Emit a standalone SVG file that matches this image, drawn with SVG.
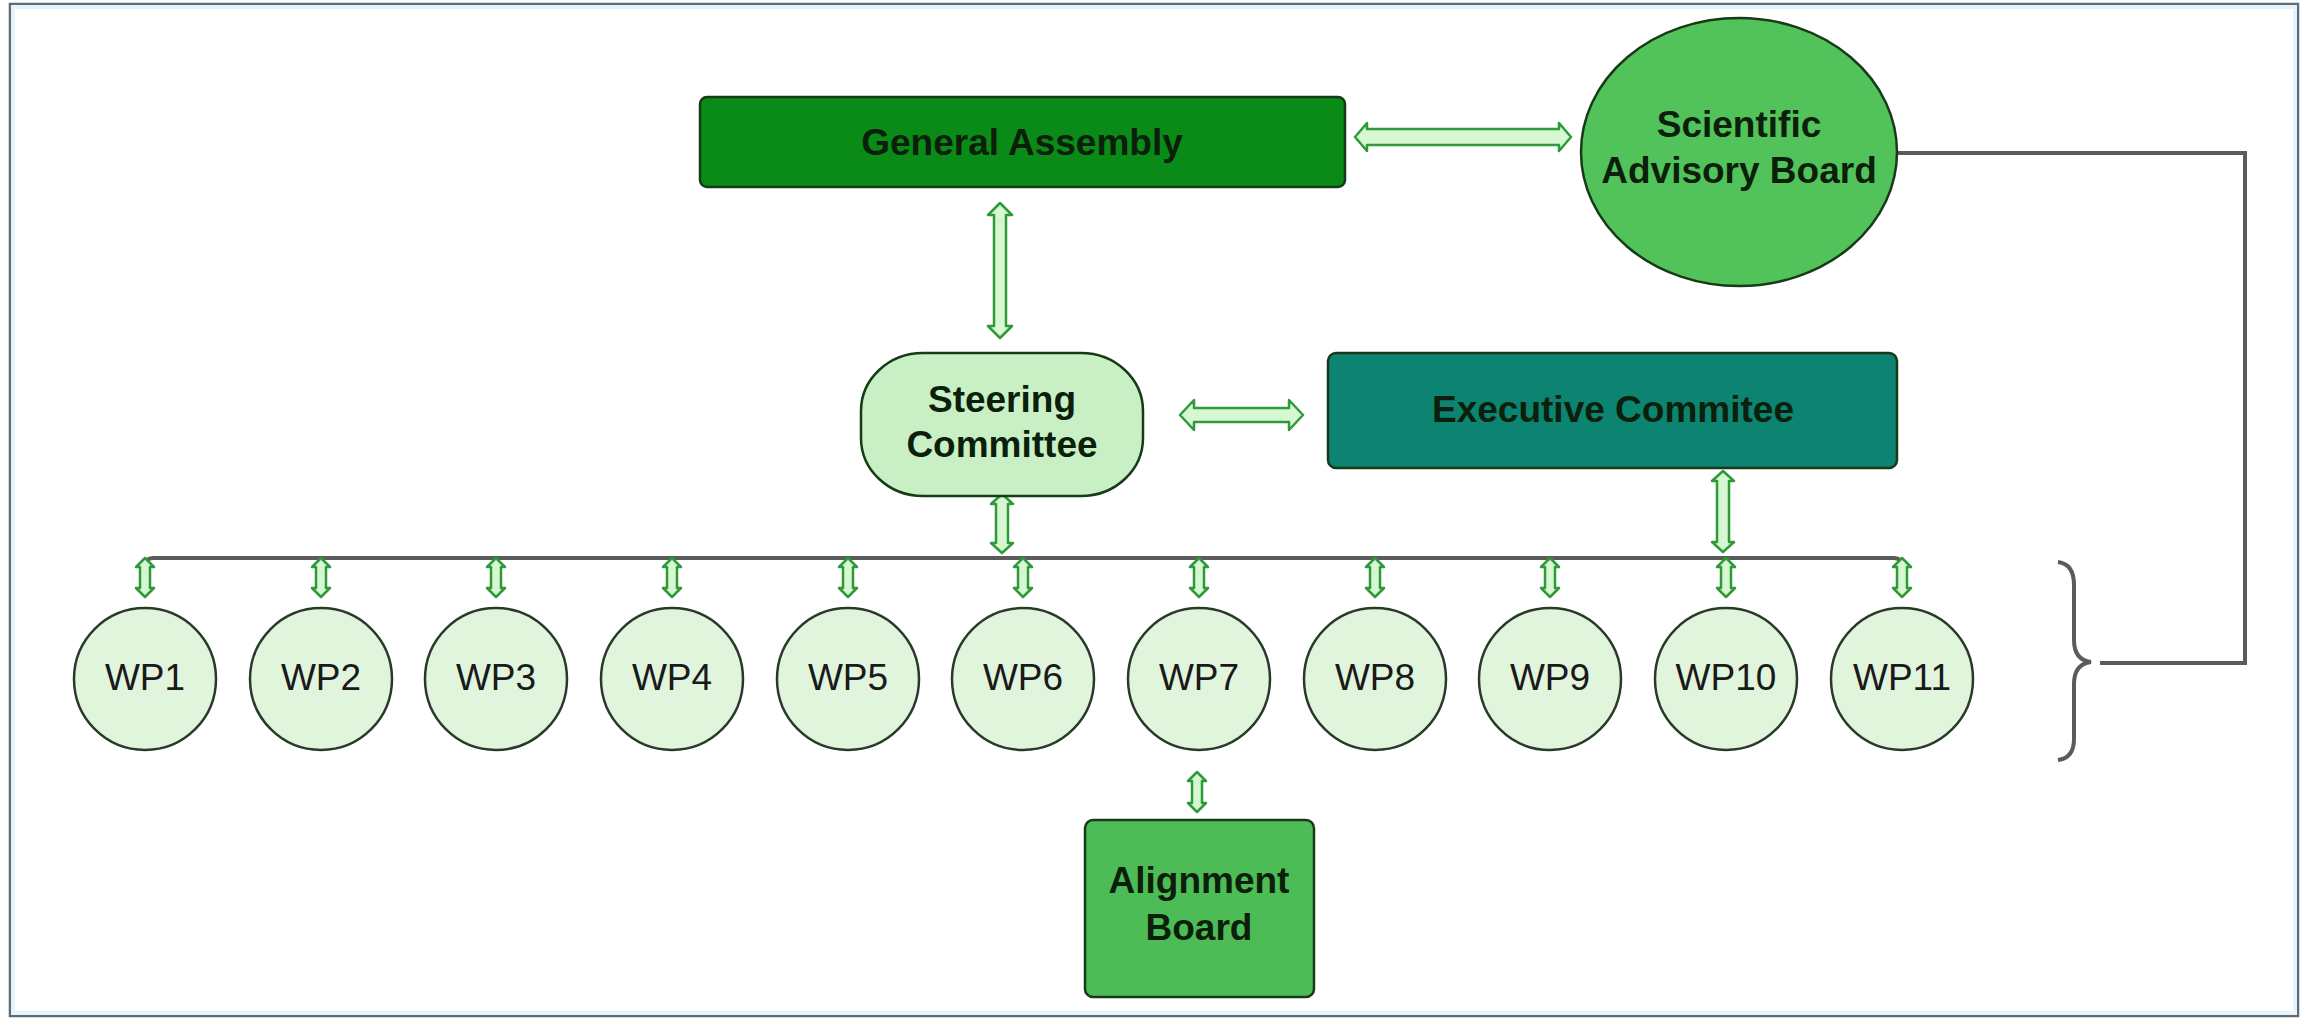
<svg xmlns="http://www.w3.org/2000/svg" width="2303" height="1019" viewBox="0 0 2303 1019">
<style>
.lbl{font-family:"Liberation Sans",Arial,sans-serif;font-weight:bold;font-size:37px;fill:#0b1f0b;text-anchor:middle}
.wp{font-family:"Liberation Sans",Arial,sans-serif;font-size:37px;fill:#1a1a1a;text-anchor:middle}
.node{stroke:#173a17;stroke-width:2.5}
.arr{fill:#d6f7d1;stroke:#2f9a3a;stroke-width:2.5;stroke-linejoin:round}
.line{fill:none;stroke:#5b5b5b;stroke-width:4}
.wpc{fill:#e1f5dd;stroke:#2a3a2a;stroke-width:2.5}
</style>
<rect x="0" y="0" width="2303" height="1019" fill="#ffffff"/>
<rect x="10" y="4" width="2288" height="1012" fill="none" stroke="#5d6c7b" stroke-width="2.5"/>
<rect x="13" y="7" width="2282" height="1006" fill="none" stroke="#e6f3fb" stroke-width="4"/>

<g id="connectors">
  <path class="line" d="M145,566 Q145,558 153,558 L1894,558 Q1902,558 1902,566"/>
  <path class="line" d="M1897,153 L2245,153 L2245,663 L2100,663"/>
  <path class="line" stroke-width="2.5" d="M2058,562 Q2074,564 2074,585 L2074,640 Q2074,660 2091,662 Q2074,664 2074,684 L2074,739 Q2074,758 2058,760"/>
  <!-- GA <-> SAB -->
  <path class="arr" d="M1355,137 L1367,123 L1367,129 L1559,129 L1559,123 L1571,137 L1559,151 L1559,145 L1367,145 L1367,151 Z"/>
  <!-- GA <-> SC -->
  <path class="arr" d="M1000,203 L1012,215 L1006,215 L1006,326 L1012,326 L1000,338 L988,326 L994,326 L994,215 L988,215 Z"/>
  <!-- SC <-> EC -->
  <path class="arr" d="M1180,415 L1194,400 L1194,408 L1289,408 L1289,400 L1303,415 L1289,430 L1289,422 L1194,422 L1194,430 Z"/>
  <!-- SC <-> bus -->
  <path class="arr" d="M1002,494 L1013,504 L1008,504 L1008,543 L1013,543 L1002,553 L991,543 L996,543 L996,504 L991,504 Z"/>
  <!-- EC <-> bus -->
  <path class="arr" d="M1723,471 L1734,481 L1729,481 L1729,542 L1734,542 L1723,552 L1712,542 L1717,542 L1717,481 L1712,481 Z"/>
  <!-- bus <-> WPs -->
  <g id="wp-arrows">
    <path class="arr" transform="translate(145,0)" d="M0,558 L9,567 L5,567 L5,588 L9,588 L0,597 L-9,588 L-5,588 L-5,567 L-9,567 Z"/>
    <path class="arr" transform="translate(321,0)" d="M0,558 L9,567 L5,567 L5,588 L9,588 L0,597 L-9,588 L-5,588 L-5,567 L-9,567 Z"/>
    <path class="arr" transform="translate(496,0)" d="M0,558 L9,567 L5,567 L5,588 L9,588 L0,597 L-9,588 L-5,588 L-5,567 L-9,567 Z"/>
    <path class="arr" transform="translate(672,0)" d="M0,558 L9,567 L5,567 L5,588 L9,588 L0,597 L-9,588 L-5,588 L-5,567 L-9,567 Z"/>
    <path class="arr" transform="translate(848,0)" d="M0,558 L9,567 L5,567 L5,588 L9,588 L0,597 L-9,588 L-5,588 L-5,567 L-9,567 Z"/>
    <path class="arr" transform="translate(1023,0)" d="M0,558 L9,567 L5,567 L5,588 L9,588 L0,597 L-9,588 L-5,588 L-5,567 L-9,567 Z"/>
    <path class="arr" transform="translate(1199,0)" d="M0,558 L9,567 L5,567 L5,588 L9,588 L0,597 L-9,588 L-5,588 L-5,567 L-9,567 Z"/>
    <path class="arr" transform="translate(1375,0)" d="M0,558 L9,567 L5,567 L5,588 L9,588 L0,597 L-9,588 L-5,588 L-5,567 L-9,567 Z"/>
    <path class="arr" transform="translate(1550,0)" d="M0,558 L9,567 L5,567 L5,588 L9,588 L0,597 L-9,588 L-5,588 L-5,567 L-9,567 Z"/>
    <path class="arr" transform="translate(1726,0)" d="M0,558 L9,567 L5,567 L5,588 L9,588 L0,597 L-9,588 L-5,588 L-5,567 L-9,567 Z"/>
    <path class="arr" transform="translate(1902,0)" d="M0,558 L9,567 L5,567 L5,588 L9,588 L0,597 L-9,588 L-5,588 L-5,567 L-9,567 Z"/>
  </g>
  <!-- WP7 <-> AB -->
  <path class="arr" d="M1197,772 L1206,781 L1202,781 L1202,803 L1206,803 L1197,812 L1188,803 L1192,803 L1192,781 L1188,781 Z"/>
</g>

<g id="general-assembly">
  <rect class="node" x="700" y="97" width="645" height="90" rx="7" fill="#0a8a16"/>
  <text class="lbl" x="1022" y="155">General Assembly</text>
</g>
<g id="scientific-advisory-board">
  <ellipse class="node" cx="1739" cy="152" rx="158" ry="134" fill="#52c25b"/>
  <text class="lbl" x="1739" y="137">Scientific</text>
  <text class="lbl" x="1739" y="183">Advisory Board</text>
</g>
<g id="steering-committee">
  <rect class="node" x="861" y="353" width="282" height="143" rx="62" ry="58" fill="#c9f0c5"/>
  <text class="lbl" x="1002" y="412">Steering</text>
  <text class="lbl" x="1002" y="457">Committee</text>
</g>
<g id="executive-committee">
  <rect class="node" x="1328" y="353" width="569" height="115" rx="8" fill="#0d8372"/>
  <text class="lbl" x="1613" y="422">Executive Commitee</text>
</g>
<g id="wp1"><circle class="wpc" cx="145" cy="679" r="71"/><text class="wp" x="145" y="690">WP1</text></g>
<g id="wp2"><circle class="wpc" cx="321" cy="679" r="71"/><text class="wp" x="321" y="690">WP2</text></g>
<g id="wp3"><circle class="wpc" cx="496" cy="679" r="71"/><text class="wp" x="496" y="690">WP3</text></g>
<g id="wp4"><circle class="wpc" cx="672" cy="679" r="71"/><text class="wp" x="672" y="690">WP4</text></g>
<g id="wp5"><circle class="wpc" cx="848" cy="679" r="71"/><text class="wp" x="848" y="690">WP5</text></g>
<g id="wp6"><circle class="wpc" cx="1023" cy="679" r="71"/><text class="wp" x="1023" y="690">WP6</text></g>
<g id="wp7"><circle class="wpc" cx="1199" cy="679" r="71"/><text class="wp" x="1199" y="690">WP7</text></g>
<g id="wp8"><circle class="wpc" cx="1375" cy="679" r="71"/><text class="wp" x="1375" y="690">WP8</text></g>
<g id="wp9"><circle class="wpc" cx="1550" cy="679" r="71"/><text class="wp" x="1550" y="690">WP9</text></g>
<g id="wp10"><circle class="wpc" cx="1726" cy="679" r="71"/><text class="wp" x="1726" y="690">WP10</text></g>
<g id="wp11"><circle class="wpc" cx="1902" cy="679" r="71"/><text class="wp" x="1902" y="690">WP11</text></g>
<g id="alignment-board">
  <rect class="node" x="1085" y="820" width="229" height="177" rx="8" fill="#4dbb56"/>
  <text class="lbl" x="1199" y="893">Alignment</text>
  <text class="lbl" x="1199" y="940">Board</text>
</g>
</svg>
